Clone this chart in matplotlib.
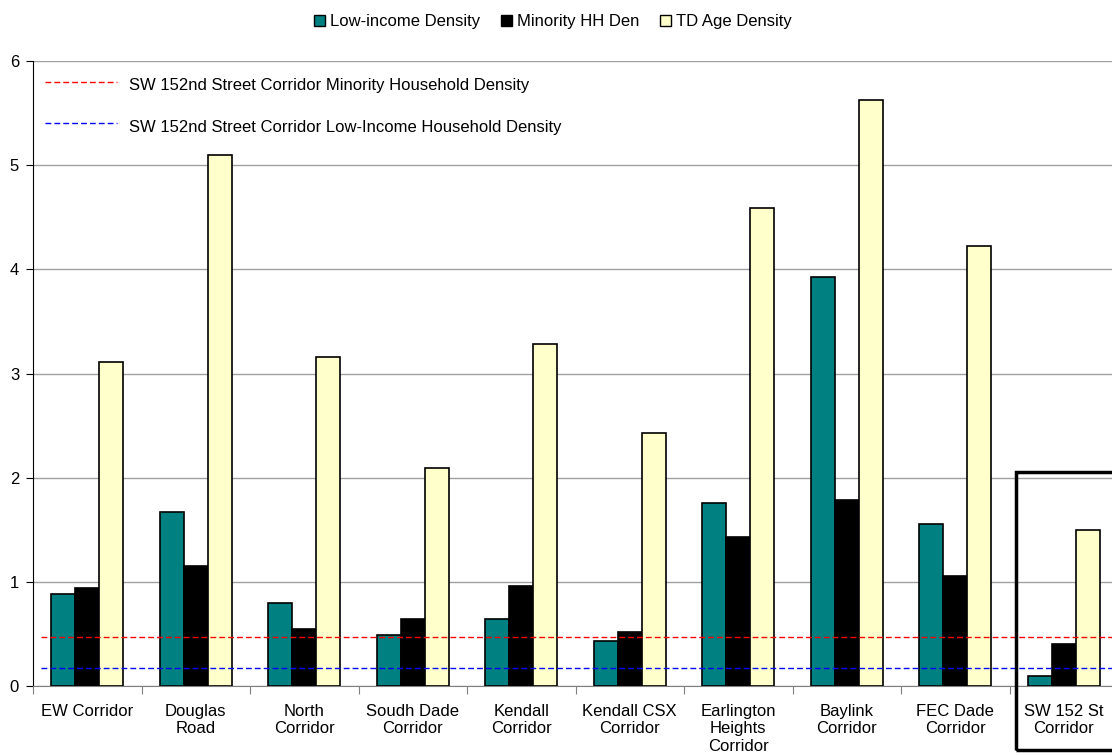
import matplotlib.pyplot as plt
import numpy as np
from matplotlib.patches import Patch, Rectangle

plt.rcParams['font.family'] = ['Liberation Sans', 'DejaVu Sans']

corridors = ["EW Corridor", "Douglas\nRoad", "North\nCorridor", "Soudh Dade\nCorridor",
             "Kendall\nCorridor", "Kendall CSX\nCorridor", "Earlington\nHeights\nCorridor",
             "Baylink\nCorridor", "FEC Dade\nCorridor", "SW 152 St\nCorridor"]
low_income = [0.88, 1.67, 0.80, 0.49, 0.64, 0.43, 1.76, 3.93, 1.56, 0.10]
minority_hh = [0.94, 1.15, 0.55, 0.64, 0.96, 0.52, 1.43, 1.79, 1.06, 0.40]
td_age = [3.11, 5.10, 3.16, 2.09, 3.28, 2.43, 4.59, 5.63, 4.22, 1.50]
series_names = ["Low-income Density", "Minority HH Den", "TD Age Density"]
series_colors = ["#008080", "#000000", "#FFFFCC"]

minority_ref = 0.47
lowinc_ref = 0.17
ref_labels = ["SW 152nd Street Corridor Minority Household Density",
              "SW 152nd Street Corridor Low-Income Household Density"]

fig = plt.figure(figsize=(11.12, 7.56), dpi=100)
ax = fig.add_axes([33 / 1112, 70 / 756, 1085 / 1112, 625 / 756])

x = np.arange(len(corridors))
w = 1 / 4.5
for i, (vals, c) in enumerate(zip([low_income, minority_hh, td_age], series_colors)):
    ax.bar(x + (i - 1) * w, vals, w, color=c, edgecolor="black", linewidth=1.2, zorder=3)

ax.set_xlim(-0.5, len(corridors) - 0.5)
ax.set_ylim(0, 6)
ax.set_yticks(range(7))
ax.yaxis.grid(True, color="#a0a0a0", linewidth=1, zorder=0)
ax.tick_params(axis="y", length=5, direction="out", labelsize=12, pad=5)

ax.set_xticks(np.arange(len(corridors) + 1) - 0.5)
ax.set_xticklabels([])
ax.set_xticks(x, minor=True)
ax.set_xticklabels(corridors, minor=True, fontsize=12)
ax.tick_params(axis="x", which="major", length=6, color="#808080")
ax.tick_params(axis="x", which="minor", length=0, pad=13)

for s in ["top", "right"]:
    ax.spines[s].set_visible(False)
ax.spines["bottom"].set_color("#808080")
ax.spines["left"].set_color("black")

# reference lines for SW 152nd Street
dash = (0, (4.2, 2.2))
ax.axhline(minority_ref, xmin=0.007, color="#ff0000", linestyle=dash, linewidth=1, zorder=4)
ax.axhline(lowinc_ref, xmin=0.007, color="#0000ff", linestyle=dash, linewidth=1, zorder=4)
ax.plot([0.011, 0.0774], [0.9664, 0.9664], transform=ax.transAxes, color="#ff0000",
        linestyle=dash, linewidth=1)
ax.plot([0.011, 0.0774], [0.9008, 0.9008], transform=ax.transAxes, color="#0000ff",
        linestyle=dash, linewidth=1)
ax.text(0.0885, 0.961, ref_labels[0], transform=ax.transAxes, va="center", fontsize=12)
ax.text(0.0885, 0.894, ref_labels[1], transform=ax.transAxes, va="center", fontsize=12)

# highlight box around SW 152 St
ax.add_patch(Rectangle((8.56, -0.61), 1.2, 2.66, fill=False, edgecolor="black",
                       linewidth=2.5, clip_on=False, zorder=5))

handles = [Patch(facecolor=c, edgecolor="black", linewidth=1) for c in series_colors]
fig.legend(handles, series_names, loc="center", bbox_to_anchor=(0.497, 0.971), ncol=3,
           frameon=False, fontsize=12, handlelength=0.65, handleheight=0.65,
           handletextpad=0.3, columnspacing=1.25)

fig.savefig("out.png", dpi=100)
